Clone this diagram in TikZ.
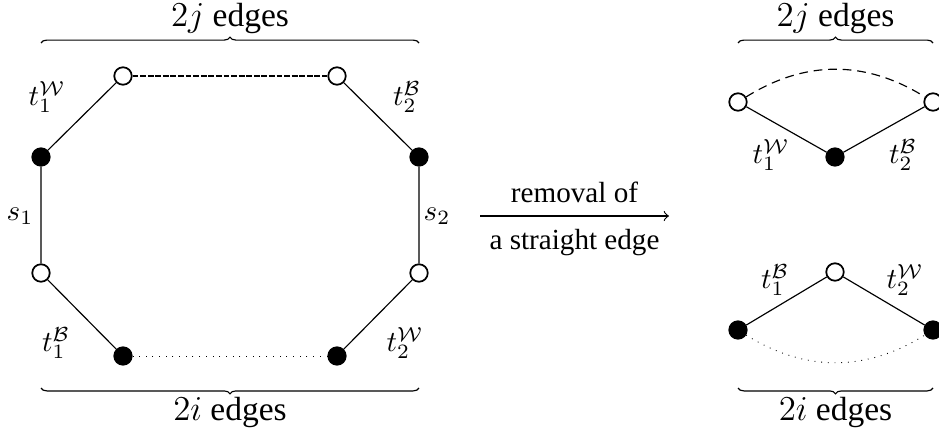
\documentclass[tikz,border=0pt]{standalone}
\usepackage{fontspec}
\setmainfont{Liberation Serif}
\usetikzlibrary{decorations.pathreplacing}

\tikzset{
  wnode/.style={circle,draw,semithick,fill=white,inner sep=0pt,minimum size=6pt},
  bnode/.style={circle,draw,semithick,fill=black,inner sep=0pt,minimum size=6pt},
  edgebrace/.style={decorate,decoration={brace,amplitude=2pt}},
  bracetext/.style={font=\fontsize{11.5}{14}\selectfont,inner sep=2pt},
  fine dashed/.style={dash pattern=on 2pt off 0.6pt},
  fine dotted/.style={dotted,line width=0.3pt}
}

\begin{document}
\begin{tikzpicture}[x=0.3432pt,y=-0.3432pt]
  \useasboundingbox (0,0) rectangle (939,428);
  % Octagon on the left
  \node[wnode] (a1) at (123,76) {};
  \node[wnode] (a2) at (337,76) {};
  \node[bnode] (a3) at (419,157) {};
  \node[wnode] (a4) at (419,273) {};
  \node[bnode] (a5) at (337,356) {};
  \node[bnode] (a6) at (123,356) {};
  \node[wnode] (a7) at (41,273) {};
  \node[bnode] (a8) at (41,157) {};
  \draw (a8) -- (a1);
  \draw[fine dashed] (a1) -- (a2);
  \draw (a2) -- (a3) -- (a4) -- (a5);
  \draw[fine dotted] (a5) -- (a6);
  \draw (a6) -- (a7) -- (a8);
  % Edge labels
  \node (lt1w) at (47,97) {$t_1^{\mathcal W}$};
  \node (lt2b) at (407,97) {$t_2^{\mathcal B}$};
  \node (ls1) at (20,216) {$s_1$};
  \node (ls2) at (437,216) {$s_2$};
  \node (lt1b) at (56,343) {$t_1^{\mathcal B}$};
  \node (lt2w) at (405,343) {$t_2^{\mathcal W}$};
  % Braces
  \coordinate (lbt1) at (41,43);
  \coordinate (lbt2) at (419,43);
  \draw[edgebrace] (lbt1) -- (lbt2) node[midway,above=1pt,bracetext] (ljtext) {$2j$ edges};
  \coordinate (lbb1) at (41,388);
  \coordinate (lbb2) at (419,388);
  \draw[edgebrace] (lbb2) -- (lbb1) node[midway,below=1pt,bracetext] (litext) {$2i$ edges};
  % Arrow
  \coordinate (arrL) at (480,216);
  \coordinate (arrR) at (669,216);
  \draw[->] (arrL) -- (arrR)
    node[midway,above=1pt] (rmtop) {removal of}
    node[midway,below=1pt] (rmbot) {a straight edge};
  % Upper piece on the right
  \node[wnode] (b1) at (738,102) {};
  \node[bnode] (b2) at (835,157) {};
  \node[wnode] (b3) at (933,102) {};
  \draw (b1) -- (b2) -- (b3);
  \draw[densely dashed] (b1) to[bend left=32] (b3);
  \node (rt1w) at (771,155) {$t_1^{\mathcal W}$};
  \node (rt2b) at (903,155) {$t_2^{\mathcal B}$};
  \coordinate (rbt1) at (738,43);
  \coordinate (rbt2) at (933,43);
  \draw[edgebrace] (rbt1) -- (rbt2) node[midway,above=1pt,bracetext] (rjtext) {$2j$ edges};
  % Lower piece on the right
  \node[wnode] (c1) at (835,272) {};
  \node[bnode] (c2) at (738,330) {};
  \node[bnode] (c3) at (933,330) {};
  \draw (c2) -- (c1) -- (c3);
  \draw[fine dotted] (c2) to[bend right=32] (c3);
  \node (rt1b) at (775,280) {$t_1^{\mathcal B}$};
  \node (rt2w) at (905,280) {$t_2^{\mathcal W}$};
  \coordinate (rbb1) at (738,388);
  \coordinate (rbb2) at (933,388);
  \draw[edgebrace] (rbb2) -- (rbb1) node[midway,below=1pt,bracetext] (ritext) {$2i$ edges};
\end{tikzpicture}
\end{document}
